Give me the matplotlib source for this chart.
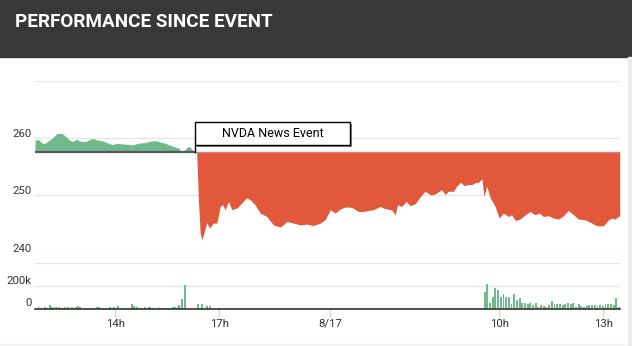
import numpy as np
import matplotlib.pyplot as plt
from matplotlib.patches import Rectangle
from matplotlib.transforms import IdentityTransform

# time axis in hours, 8/17 hours shifted by +15.07 (overnight compressed)
pre_t = [11.69, 11.78, 11.90, 11.98, 12.07, 12.18, 12.27, 12.33, 12.47, 12.56,
         12.65, 12.76, 12.90, 12.99, 13.14, 13.28, 13.37, 13.48, 13.63, 13.77,
         13.91, 14.06, 14.20, 14.37, 14.49, 14.66, 14.86, 15.01, 15.15, 15.30,
         15.44, 15.59, 15.73, 15.84, 15.90, 15.99, 16.07, 16.16, 16.25]
pre_p = [259.65, 259.82, 259.12, 259.12, 259.53, 259.95, 260.53, 260.83, 260.83, 260.40,
         259.82, 259.42, 259.82, 259.47, 259.42, 259.82, 259.95, 259.70, 259.53, 259.24,
         258.89, 259.12, 259.00, 258.94, 258.82, 259.12, 259.24, 259.47, 259.59, 259.35,
         259.12, 258.77, 258.47, 258.24, 257.66, 257.71, 258.47, 258.47, 257.77]

event_t = 16.31
event_p = 257.63
event_label = "NVDA News Event"

post_t = [16.35, 16.40, 16.45, 16.50, 16.56, 16.64, 16.72, 16.83, 16.93, 17.03,
          17.10, 17.17, 17.27, 17.36, 17.51, 17.65, 17.78, 17.89, 18.03, 18.18,
          18.37, 18.56, 18.76, 18.95, 19.14, 19.33, 19.52, 19.71, 19.91, 20.05,
          20.20, 20.34, 20.48, 20.63, 20.82, 21.01, 21.16, 21.30, 21.44, 21.64,
          21.78, 21.97, 22.07, 22.14, 22.26, 22.39, 22.50, 22.65, 22.79, 22.93,
          23.08, 23.17, 23.27, 23.41, 23.51, 23.60, 23.75, 23.84, 23.96, 24.06,
          24.18, 24.28, 24.37, 24.47, 24.57, 24.63, 24.71, 24.81, 24.95, 25.07,
          25.19, 25.33, 25.43, 25.53, 25.67, 25.82, 25.96, 26.10, 26.23, 26.34,
          26.49, 26.63, 26.78, 26.92, 27.06, 27.21, 27.35, 27.54, 27.74, 27.88,
          28.07, 28.22, 28.31, 28.41, 28.50, 28.54]
post_p = [257.54, 249.27, 243.47, 242.23, 243.47, 245.28, 244.29, 245.17, 245.17, 248.09,
          248.39, 247.51, 248.97, 247.51, 247.81, 248.69, 249.57, 249.27, 248.39, 246.93,
          246.33, 244.87, 244.47, 245.45, 245.17, 244.87, 245.00, 244.75, 245.17, 245.75,
          247.51, 246.93, 247.63, 247.99, 247.92, 247.21, 247.21, 247.39, 247.51, 248.09,
          247.69, 247.51, 246.63, 248.39, 248.09, 248.97, 248.21, 248.57, 249.75, 250.73,
          250.15, 250.15, 250.45, 251.03, 250.15, 250.73, 250.73, 251.61, 252.31, 251.73,
          251.91, 251.91, 252.21, 252.31, 252.91, 249.85, 251.61, 249.57, 248.09, 246.05,
          246.93, 246.33, 246.63, 245.63, 245.88, 246.63, 247.21, 246.63, 246.93, 246.33,
          246.46, 246.05, 245.88, 246.46, 247.39, 246.63, 245.88, 245.75, 245.17, 244.70,
          244.70, 245.75, 246.05, 245.88, 246.33, 246.40]

# volume (thousands)
vol1_t = [11.79, 11.84, 11.98, 12.03, 12.13, 12.18, 12.22, 12.30, 12.37, 12.44,
          12.51, 12.56, 12.63, 12.68, 12.75, 12.80, 12.88, 12.93, 12.99, 13.14,
          13.28, 13.47, 13.54, 13.62, 13.74, 13.84, 13.90, 13.97, 14.07, 14.19,
          14.34, 14.48, 14.55, 14.63, 14.72, 14.86, 14.96, 15.01, 15.09, 15.25,
          15.32, 15.39, 15.49, 15.59, 15.66, 15.73, 15.80, 15.85, 15.92, 16.00,
          16.40, 16.50, 16.64, 16.74, 17.00, 17.22, 17.75, 18.55]
vol1_v = [15, 9, 18, 9, 29, 15, 15, 12, 12, 9,
          9, 18, 15, 9, 12, 9, 18, 23, 12, 9,
          6, 12, 12, 6, 9, 15, 9, 15, 20, 6,
          6, 44, 23, 12, 9, 15, 18, 15, 9, 18,
          9, 9, 6, 9, 15, 18, 15, 29, 82, 205,
          44, 44, 23, 23, 9, 6, 5, 5]
vol2_start, vol2_end = 24.65, 28.52
vol2_v = [144, 215, 48, 106, 180, 165, 106, 127, 100, 100,
          41, 127, 77, 92, 48, 53, 41, 53, 33, 48,
          18, 30, 24, 18, 30, 64, 41, 38, 38, 33,
          38, 48, 41, 53, 18, 41, 24, 12, 24, 33,
          30, 33, 24, 33, 24, 38, 41, 38, 33, 92, 18]

tick_pos = [14, 17, 20.2, 25.07, 28.07]
tick_lbl = ["14h", "17h", "8/17", "10h", "13h"]
price_ticks = [240, 250, 260, 270]
price_lbls = ["240", "250", "260"]
vol_ticks = [0, 200, 400]
vol_lbls = ["0", "200k"]

GREEN = "#71b98b"
RED = "#e1583a"
GRID = "#e6e6e6"
TXT = "#333333"

W, H = 632, 346
fig = plt.figure(figsize=(W / 100, H / 100), dpi=100)
fig.patch.set_facecolor("white")

# header
fig.add_artist(Rectangle((0, 1 - 57 / H), 1, 57 / H, transform=fig.transFigure,
                         color="#383838", zorder=0))
fig.text(15 / W, 1 - 27 / H, "PERFORMANCE SINCE EVENT", color="white",
         fontsize=13.6, fontweight="bold", family="Roboto", va="baseline")
fig.add_artist(Rectangle((628 / W, 0), 4 / W, 1 - 57 / H, transform=fig.transFigure,
                         color="#ebebeb", zorder=0))

x0, x1 = 35 / W, 620 / W
ax = fig.add_axes([x0, 1 - 252.7 / H, x1 - x0, (252.7 - 81) / H])
axv = fig.add_axes([x0, 1 - 308.7 / H, x1 - x0, 46 / H])

all_t = np.array(pre_t + [event_t] + post_t)
all_p = np.array(pre_p + [event_p] + post_p)
ax.fill_between(all_t, event_p, all_p, where=all_p >= event_p, interpolate=True,
                color=GREEN, lw=0, zorder=2)
ax.fill_between(all_t, event_p, all_p, where=all_p <= event_p, interpolate=True,
                color=RED, lw=0, zorder=2)
ax.plot([all_t[0], event_t], [event_p, event_p], color="#5a5a5a", lw=1.6, zorder=3)
ax.plot([event_t, all_t[-1]], [event_p, event_p], color="#c98a80", lw=1.0, zorder=3)

ax.set_xlim(11.69, 28.55)
ax.set_ylim(240, 270)
ax.set_yticks(price_ticks)
ax.grid(axis="y", color=GRID, lw=1)
ax.set_axisbelow(True)
ax.tick_params(left=False, bottom=False, labelleft=False, labelbottom=False)
for s in ax.spines.values():
    s.set_visible(False)
for v, l in zip(price_ticks, price_lbls):
    ax.annotate(l, xy=(0, v), xycoords=("axes fraction", "data"),
                xytext=(-3.3 * 0.72, 1.2 * 0.72), textcoords="offset points",
                ha="right", va="baseline", fontsize=8.2, color=TXT, family="Roboto")

# event flag
fx, fy = ax.transData.transform((event_t, event_p))
ax.plot([event_t, event_t], [event_p, ax.transData.inverted().transform((fx, fy + 7))[1]],
        color="black", lw=1, zorder=4)
fig.add_artist(Rectangle((fx + 1.5, fy + 5), 155, 23, transform=IdentityTransform(),
                         facecolor="#8a8a8a", edgecolor="none", zorder=5))
fig.add_artist(Rectangle((fx, fy + 6.5), 155, 23, transform=IdentityTransform(),
                         facecolor="white", edgecolor="black", lw=1, zorder=6))
fig.text((fx + 77.5) / W, (fy + 18) / H, event_label, ha="center", va="center",
         fontsize=9, family="Roboto", color="black", zorder=7)

# volume
axv.bar(vol1_t, vol1_v, width=0.055, color=GREEN, lw=0, zorder=2)
axv.bar(np.linspace(vol2_start, vol2_end, len(vol2_v)), vol2_v, width=0.055,
        color=GREEN, lw=0, zorder=2)
axv.set_xlim(11.69, 28.55)
axv.set_ylim(0, 400)
axv.set_yticks(vol_ticks)
axv.grid(axis="y", color=GRID, lw=1)
axv.set_axisbelow(True)
for k in ["top", "left", "right"]:
    axv.spines[k].set_visible(False)
axv.spines["bottom"].set_color("#333333")
axv.spines["bottom"].set_linewidth(1.2)
axv.spines["bottom"].set_zorder(3)
axv.tick_params(left=False, labelleft=False)
axv.set_xticks(tick_pos)
axv.set_xticklabels(tick_lbl, family="Roboto", fontsize=8.2, color=TXT)
axv.tick_params(axis="x", direction="out", length=5.8, width=1, color="#ccd6eb", pad=1.5)
for v, l in zip(vol_ticks, vol_lbls):
    axv.annotate(l, xy=(0, v), xycoords=("axes fraction", "data"),
                 xytext=(-3.3 * 0.72, 2.2 * 0.72), textcoords="offset points",
                 ha="right", va="baseline", fontsize=8.2, color=TXT, family="Roboto")

fig.add_artist(plt.Line2D([0, 628 / W], [1 - 344 / H] * 2, transform=fig.transFigure,
                          color="#eeeeee", lw=1))

fig.savefig("out.png", dpi=100)
